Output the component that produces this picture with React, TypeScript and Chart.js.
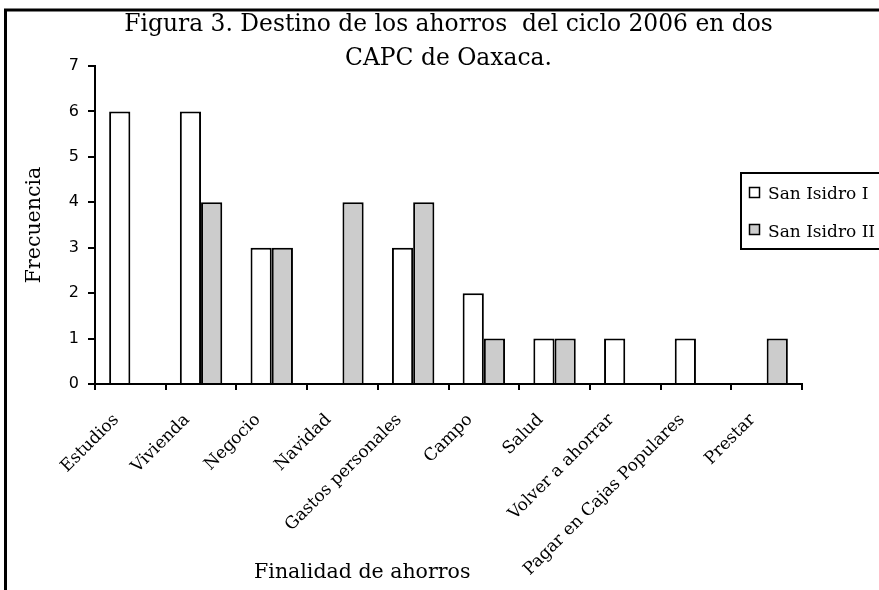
import { useEffect, useRef } from 'react';
import { Chart, registerables } from 'chart.js';

Chart.register(...registerables);

const W = 879;
const H = 590;

const titleLines = ['Figura 3. Destino de los ahorros  del ciclo 2006 en dos', 'CAPC de Oaxaca.'];
const categories = [
  'Estudios',
  'Vivienda',
  'Negocio',
  'Navidad',
  'Gastos personales',
  'Campo',
  'Salud',
  'Volver a ahorrar',
  'Pagar en Cajas Populares',
  'Prestar',
];
const seriesLabels = ['San Isidro I', 'San Isidro II'];
const sanIsidroI = [6, 6, 3, 0, 3, 2, 1, 1, 1, 0];
const sanIsidroII = [0, 4, 3, 4, 4, 1, 1, 0, 0, 1];
const seriesColors = ['#ffffff', '#cccccc'];
const yMin = 0;
const yMax = 7;
const yStep = 1;
const yTitle = 'Frecuencia';
const xTitle = 'Finalidad de ahorros';

const SERIF = 'DejaVu Serif';
const SANS = 'DejaVu Sans';

const decorPlugin = {
  id: 'decor',
  afterDraw(chart: any) {
    const { ctx, chartArea } = chart;
    ctx.save();
    // outer frame
    ctx.strokeStyle = '#000';
    ctx.lineWidth = 3;
    ctx.strokeRect(5.5, 10, W + 40, H + 40);

    // x axis title
    ctx.fillStyle = '#000';
    ctx.font = `20.5px "${SERIF}"`;
    ctx.textAlign = 'center';
    ctx.textBaseline = 'alphabetic';
    const xt = chartArea.left + (chartArea.right - chartArea.left) * 0.378;
    ctx.fillText(xTitle, xt, 578);

    // legend
    const lx = 741;
    const ly = 173;
    ctx.lineWidth = 2;
    ctx.strokeRect(lx, ly, 200, 76);
    ctx.font = `17px "${SERIF}"`;
    ctx.textAlign = 'left';
    chart.data.datasets.forEach((ds: any, i: number) => {
      const my = 187 + i * 37;
      ctx.fillStyle = ds.backgroundColor;
      ctx.fillRect(749, my, 11, 11);
      ctx.lineWidth = 1.5;
      ctx.strokeStyle = '#000';
      ctx.strokeRect(749.5, my + 0.5, 10, 10);
      ctx.fillStyle = '#000';
      ctx.fillText(ds.label, 768, 199 + i * 38);
    });
    ctx.restore();
  },
};

export default function App() {
  const ref = useRef<HTMLCanvasElement>(null);
  useEffect(() => {
    const chart = new Chart(ref.current as HTMLCanvasElement, {
      type: 'bar',
      data: {
        labels: categories,
        datasets: [
          {
            label: seriesLabels[0],
            data: sanIsidroI,
            backgroundColor: seriesColors[0],
            borderColor: '#000',
            borderWidth: 2,
            categoryPercentage: 0.6,
            barPercentage: 1,
          },
          {
            label: seriesLabels[1],
            data: sanIsidroII,
            backgroundColor: seriesColors[1],
            borderColor: '#000',
            borderWidth: 2,
            categoryPercentage: 0.6,
            barPercentage: 1,
          },
        ],
      },
      options: {
        responsive: false,
        animation: false,
        devicePixelRatio: 1,
        layout: { padding: { top: 0, right: 77, bottom: 0, left: 0 } },
        plugins: {
          legend: { display: false },
          tooltip: { enabled: false },
          title: {
            display: true,
            text: titleLines,
            color: '#000',
            fullSize: false,
            font: { family: SERIF, size: 23.4, weight: 'normal', lineHeight: 34 / 23.4 },
            padding: { top: 8, bottom: -10 },
          },
        },
        scales: {
          x: {
            offset: true,
            grid: {
              display: true,
              offset: true,
              drawOnChartArea: false,
              drawTicks: true,
              tickLength: 6,
              color: '#000',
              lineWidth: 2,
            },
            border: { display: true, color: '#000', width: 2 },
            ticks: {
              color: '#000',
              font: { family: SERIF, size: 17 },
              minRotation: 45,
              maxRotation: 45,
              autoSkip: false,
              padding: 20,
              labelOffset: -14,
            },
            afterFit: (s: any) => {
              s.height = 206;
            },
          },
          y: {
            min: yMin,
            max: yMax,
            ticks: {
              stepSize: yStep,
              color: '#000',
              font: { family: SANS, size: 16 },
              padding: 9,
            },
            grid: {
              drawOnChartArea: false,
              drawTicks: true,
              tickLength: 7,
              color: '#000',
              lineWidth: 2,
            },
            border: { display: true, color: '#000', width: 2 },
            title: {
              display: true,
              text: yTitle,
              color: '#000',
              font: { family: SERIF, size: 20.5 },
              padding: { top: 22, bottom: 0 },
            },
            afterFit: (s: any) => {
              s.width = 95;
            },
          },
        },
      },
      plugins: [decorPlugin],
    });
    return () => chart.destroy();
  }, []);
  return (
    <div style={{ position: 'absolute', left: 0, top: 0, width: W, height: H, background: '#fff', overflow: 'hidden' }}>
      <canvas ref={ref} width={W} height={H} style={{ display: 'block', width: W, height: H }} />
    </div>
  );
}
